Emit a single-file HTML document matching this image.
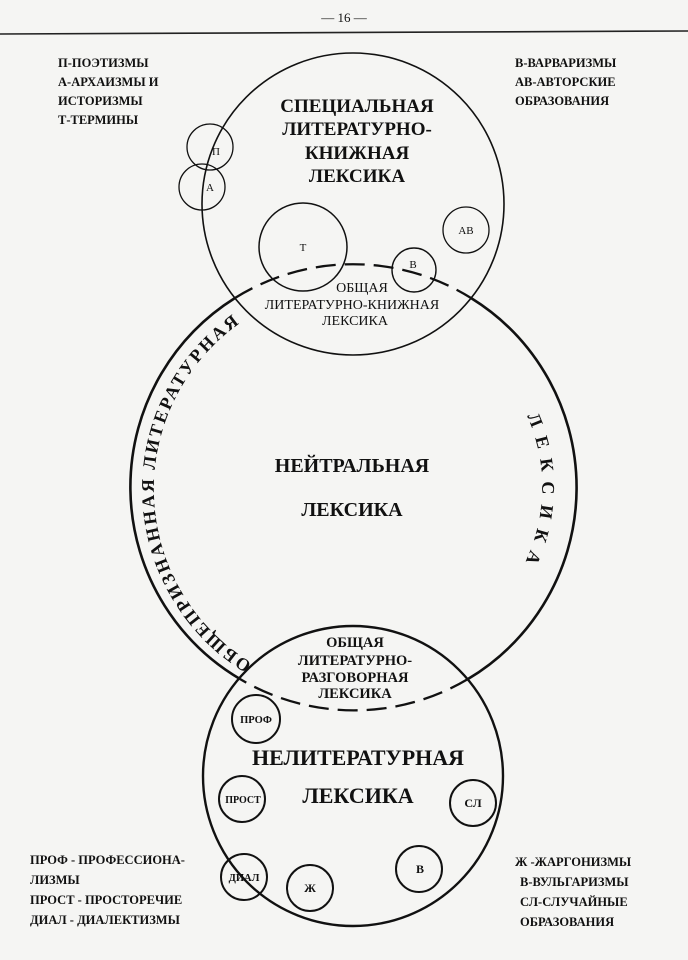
<!DOCTYPE html>
<html><head><meta charset="utf-8"><style>
html,body{margin:0;padding:0;background:#f5f5f3;}
svg{display:block;}
text{font-family:"Liberation Serif","Noto Serif CJK SC",serif;fill:#111;}
</style></head><body>
<svg width="688" height="960" viewBox="0 0 688 960" xmlns="http://www.w3.org/2000/svg">
<rect width="688" height="960" fill="#f5f5f3"/>
<text x="344" y="22" text-anchor="middle" font-size="13">— 16 —</text>
<path d="M0,34 L688,31" stroke="#222" stroke-width="1.6"/>

<g font-size="12.5" font-weight="bold">
<text x="58" y="67">П-ПОЭТИЗМЫ</text>
<text x="58" y="86">А-АРХАИЗМЫ И</text>
<text x="58" y="105">ИСТОРИЗМЫ</text>
<text x="58" y="124">Т-ТЕРМИНЫ</text>
<text x="515" y="67">В-ВАРВАРИЗМЫ</text>
<text x="515" y="86">АВ-АВТОРСКИЕ</text>
<text x="515" y="105">ОБРАЗОВАНИЯ</text>
<text x="30" y="864">ПРОФ - ПРОФЕССИОНА-</text>
<text x="30" y="884">ЛИЗМЫ</text>
<text x="30" y="904">ПРОСТ - ПРОСТОРЕЧИЕ</text>
<text x="30" y="924">ДИАЛ - ДИАЛЕКТИЗМЫ</text>
<text x="515" y="866">Ж -ЖАРГОНИЗМЫ</text>
<text x="520" y="886">В-ВУЛЬГАРИЗМЫ</text>
<text x="520" y="906">СЛ-СЛУЧАЙНЫЕ</text>
<text x="520" y="926">ОБРАЗОВАНИЯ</text>
</g>

<g fill="none" stroke="#111">
<circle cx="353" cy="204" r="151" stroke-width="1.6"/>
<path d="M235,298 A223,223 0 0 1 471,298" stroke-width="2.3" stroke-dasharray="20,9"/>
<path d="M471,298 A223,223 0 0 1 468,679" stroke-width="2.6"/>
<path d="M468,679 A223,223 0 0 1 240,679" stroke-width="2.3" stroke-dasharray="20,9"/>
<path d="M240,679 A223,223 0 0 1 235,298" stroke-width="2.6"/>
<circle cx="353" cy="776" r="150" stroke-width="2.4"/>
<circle cx="210" cy="147" r="23" stroke-width="1.3"/>
<circle cx="202" cy="187" r="23" stroke-width="1.3"/>
<circle cx="303" cy="247" r="44" stroke-width="1.5"/>
<circle cx="414" cy="270" r="22" stroke-width="1.4"/>
<circle cx="466" cy="230" r="23" stroke-width="1.3"/>
<circle cx="256" cy="719" r="24" stroke-width="2"/>
<circle cx="242" cy="799" r="23" stroke-width="2"/>
<circle cx="473" cy="803" r="23" stroke-width="2"/>
<circle cx="419" cy="869" r="23" stroke-width="2"/>
<circle cx="310" cy="888" r="23" stroke-width="2"/>
<circle cx="244" cy="877" r="23" stroke-width="2"/>
</g>

<g font-size="11" text-anchor="middle">
<text x="216" y="155">П</text>
<text x="210" y="191">А</text>
<text x="303" y="251">Т</text>
<text x="413" y="268">В</text>
<text x="466" y="234">АВ</text>
</g>
<g font-size="10.5" font-weight="bold" text-anchor="middle">
<text x="256" y="723">ПРОФ</text>
<text x="243" y="803" font-size="10">ПРОСТ</text>
<text x="473" y="807" font-size="12">СЛ</text>
<text x="420" y="873" font-size="12">В</text>
<text x="310" y="892" font-size="12">Ж</text>
<text x="244" y="881">ДИАЛ</text>
</g>

<g text-anchor="middle" font-weight="bold">
<g font-size="19" fill="#333">
<text x="357" y="112">СПЕЦИАЛЬНАЯ</text>
<text x="357" y="135">ЛИТЕРАТУРНО-</text>
<text x="357" y="159">КНИЖНАЯ</text>
<text x="357" y="182">ЛЕКСИКА</text>
</g>
<g font-size="14" font-weight="normal">
<text x="362" y="292">ОБЩАЯ</text>
<text x="352" y="309">ЛИТЕРАТУРНО-КНИЖНАЯ</text>
<text x="355" y="325">ЛЕКСИКА</text>
</g>
<text x="352" y="472" font-size="20">НЕЙТРАЛЬНАЯ</text>
<text x="352" y="516" font-size="20">ЛЕКСИКА</text>
<g font-size="14.5">
<text x="355" y="647">ОБЩАЯ</text>
<text x="355" y="665">ЛИТЕРАТУРНО-</text>
<text x="355" y="682">РАЗГОВОРНАЯ</text>
<text x="355" y="698">ЛЕКСИКА</text>
</g>
<text x="358" y="765" font-size="22">НЕЛИТЕРАТУРНАЯ</text>
<text x="358" y="803" font-size="22">ЛЕКСИКА</text>
</g>

<defs>
<path id="lp" d="M252,663 A203,203 0 0 1 256,313"/>
<path id="rp" d="M513,416 A173,173 0 0 1 513,558"/>
</defs>
<text font-size="18" font-weight="bold"><textPath href="#lp" textLength="402" lengthAdjust="spacing">ОБЩЕПРИЗНАННАЯ ЛИТЕРАТУРНАЯ</textPath></text>
<text font-size="18" font-weight="bold" transform="translate(14,0)"><textPath href="#rp" textLength="150" lengthAdjust="spacing">ЛЕКСИКА</textPath></text>
</svg>
</body></html>
